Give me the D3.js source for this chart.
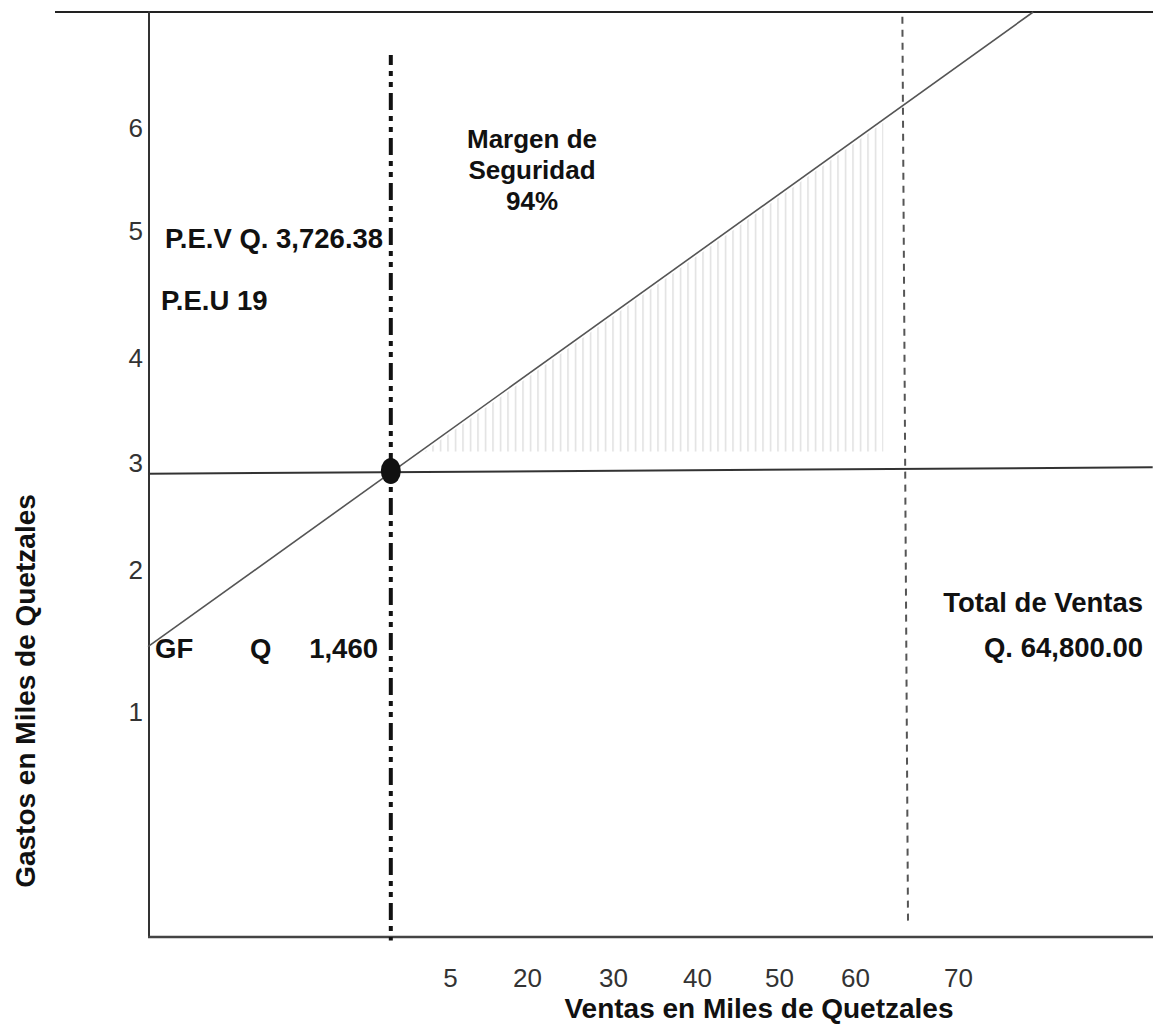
<!DOCTYPE html>
<html>
<head>
<meta charset="utf-8">
<script src="https://cdn.jsdelivr.net/npm/d3@7"></script>
<style>
  html, body { margin: 0; padding: 0; background: #fff; }
  svg { display: block; }
  text { font-family: "Liberation Sans", Arial, sans-serif; }
</style>
</head>
<body>
<div id="chart"></div>
<script>
// ---- data (thousands of quetzales) ----
const xTickValues = [5, 20, 30, 40, 50, 60, 70];
const yTickValues = [1, 2, 3, 4, 5, 6];
const xScaleStops = [0, 5, 20, 30, 40, 50, 60, 70];
const yScaleStops = [0, 1, 2, 3, 4, 5, 6, 7];

const salesLine = [ { v: 0, g: 1.46 }, { v: 77.3, g: 7 } ];
const costLine  = [ { v: 0, g: 2.90 }, { v: 88.9, g: 2.96 } ];
const breakEven = { v: 4.02, g: 2.925 };
const pevLine   = [ { v: 4.02, g: 6.63 }, { v: 4.02, g: -0.015 } ];
const totalLine = [ { v: 64.6, g: 6.96 }, { v: 65.15, g: 0.05 } ];
const marginEndV = 62.75;
const marginBaseG = 3.11;

const marginLabel = ["Margen de", "Seguridad", "94%"];
const pevLabel = "P.E.V Q. 3,726.38";
const peuLabel = "P.E.U 19";
const gfLabels = ["GF", "Q", "1,460"];
const totalLabel = ["Total de Ventas", "Q. 64,800.00"];
const xTitle = "Ventas en Miles de Quetzales";
const yTitle = "Gastos en Miles de Quetzales";

// ---- layout ----
const W = 1153, H = 1025;
const svg = d3.select("#chart").append("svg").attr("width", W).attr("height", H);

const x = d3.scaleLinear().domain(xScaleStops).range([148, 450, 527, 613, 697, 779, 855, 958]);
const y = d3.scaleLinear().domain(yScaleStops).range([937, 712, 570, 463, 358, 231, 128, 12]);

const line = d3.line().x(d => x(d.v)).y(d => y(d.g));

// hatch pattern
const defs = svg.append("defs");
const pat = defs.append("pattern")
  .attr("id", "hatch").attr("patternUnits", "userSpaceOnUse")
  .attr("x", 433 - 0.75).attr("y", 0).attr("width", 7.5).attr("height", 20);
pat.append("rect").attr("x", 0).attr("y", 0).attr("width", 1.5).attr("height", 20).attr("fill", "#e0e0e0");

// hatch region: below sales line, above base level, up to marginEndV
const sx0 = x(salesLine[0].v), sy0 = y(salesLine[0].g);
const sx1 = x(salesLine[1].v), sy1 = y(salesLine[1].g);
const slope = (sy1 - sy0) / (sx1 - sx0);
const lineYAt = px => sy0 + slope * (px - sx0) + 3;
const baseY = y(marginBaseG);
const xi = sx0 + (baseY - 3 - sy0) / slope;
const xe = x(marginEndV);
svg.append("path")
  .attr("d", `M${xi},${baseY} L${xe},${lineYAt(xe)} L${xe},${baseY} Z`)
  .attr("fill", "url(#hatch)");

// frame
svg.append("line").attr("x1", 55).attr("x2", W).attr("y1", y(7)).attr("y2", y(7))
  .attr("stroke", "#222").attr("stroke-width", 2);
svg.append("line").attr("x1", x(0) + 1).attr("x2", x(0) + 1).attr("y1", y(7) - 1).attr("y2", y(0))
  .attr("stroke", "#333").attr("stroke-width", 2);
svg.append("line").attr("x1", x(0)).attr("x2", W).attr("y1", y(0)).attr("y2", y(0))
  .attr("stroke", "#444").attr("stroke-width", 2.5);

// axes (labels only)
const yAxis = svg.append("g").attr("transform", `translate(${x(0)},0)`)
  .call(d3.axisLeft(y).tickValues(yTickValues).tickSize(0).tickPadding(5).tickFormat(d3.format("d")));
yAxis.select(".domain").remove();
yAxis.selectAll("text").attr("font-size", 26).attr("fill", "#333")
  .attr("font-family", "Liberation Sans, Arial, sans-serif");

const xAxis = svg.append("g").attr("transform", `translate(0,${y(0)})`)
  .call(d3.axisBottom(x).tickValues(xTickValues).tickSize(0).tickPadding(32).tickFormat(d3.format("d")));
xAxis.select(".domain").remove();
xAxis.selectAll("text").attr("font-size", 26).attr("fill", "#333")
  .attr("font-family", "Liberation Sans, Arial, sans-serif");

// cost (horizontal) line
svg.append("path").datum(costLine).attr("d", line)
  .attr("fill", "none").attr("stroke", "#333").attr("stroke-width", 2);

// sales line
svg.append("path").datum(salesLine).attr("d", line)
  .attr("fill", "none").attr("stroke", "#555").attr("stroke-width", 1.6);

// total sales dashed line
svg.append("path").datum(totalLine).attr("d", line)
  .attr("fill", "none").attr("stroke", "#555").attr("stroke-width", 2)
  .attr("stroke-dasharray", "7,6");

// break-even dash-dot line
svg.append("path").datum(pevLine).attr("d", line)
  .attr("fill", "none").attr("stroke", "#111").attr("stroke-width", 4)
  .attr("stroke-dasharray", "17,6,5,6,5,6").attr("stroke-dashoffset", 7);

// break-even dot
svg.append("ellipse").attr("cx", x(breakEven.v)).attr("cy", y(breakEven.g))
  .attr("rx", 10).attr("ry", 13).attr("fill", "#111");

// annotations
const bold = (sel) => sel.attr("font-weight", "bold").attr("fill", "#111").attr("font-size", 27.5);

const mg = svg.append("g");
marginLabel.forEach((t, i) => {
  bold(mg.append("text")).attr("x", 532).attr("y", 148 + i * 31)
    .attr("text-anchor", "middle").attr("font-size", 26).text(t);
});

bold(svg.append("text")).attr("x", 165).attr("y", 248).text(pevLabel);
bold(svg.append("text")).attr("x", 161).attr("y", 310).text(peuLabel);

bold(svg.append("text")).attr("x", 155).attr("y", 658).text(gfLabels[0]);
bold(svg.append("text")).attr("x", 250).attr("y", 658).text(gfLabels[1]);
bold(svg.append("text")).attr("x", 378).attr("y", 658).attr("text-anchor", "end").text(gfLabels[2]);

bold(svg.append("text")).attr("x", 1143).attr("y", 612).attr("text-anchor", "end").text(totalLabel[0]);
bold(svg.append("text")).attr("x", 1143).attr("y", 657).attr("text-anchor", "end").text(totalLabel[1]);

bold(svg.append("text")).attr("x", 759).attr("y", 1018).attr("text-anchor", "middle")
  .attr("font-size", 28).text(xTitle);
bold(svg.append("text")).attr("transform", "translate(35,691) rotate(-90)")
  .attr("text-anchor", "middle").attr("font-size", 28).text(yTitle);
</script>
</body>
</html>
